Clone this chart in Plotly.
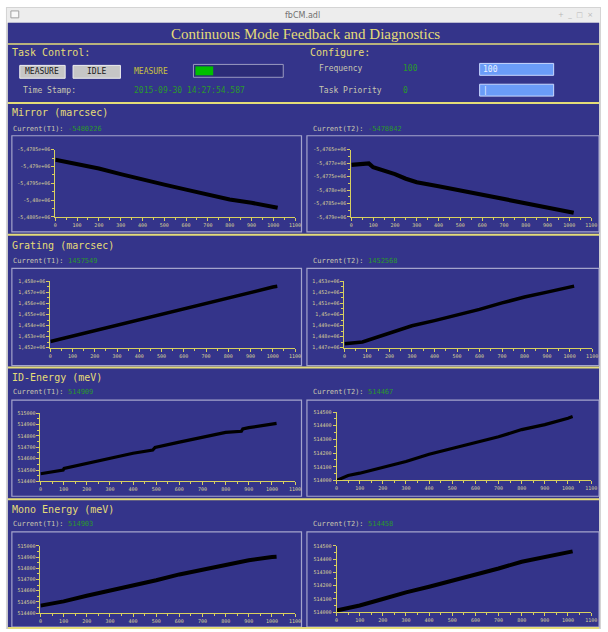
import plotly.graph_objects as go

W, H = 608, 632

# ---- data -------------------------------------------------------------
sample_x = [0, 100, 200, 300, 400, 500, 600, 700, 800, 900, 1000, 1020]

mirror_t1_x = sample_x
mirror_t1_y = [-5478800, -5478920, -5479060, -5479230, -5479400, -5479540,
               -5479690, -5479840, -5479980, -5480080, -5480205, -5480226]

mirror_t2_x = [0, 50, 80, 100, 150, 200, 250, 300, 400, 500, 600, 700, 800, 900, 1000, 1020]
mirror_t2_y = [-5477070, -5477046, -5477010, -5477155, -5477277, -5477410, -5477580,
               -5477714, -5477860, -5478017, -5478187, -5478345, -5478490, -5478624,
               -5478790, -5478842]

grating_t1_x = sample_x
grating_t1_y = [1452560, 1453060, 1453560, 1454050, 1454540, 1455040,
                1455530, 1456020, 1456520, 1457010, 1457480, 1457549]

grating_t2_x = [0, 80, 100, 200, 270, 300, 400, 500, 600, 700, 800, 900, 1000, 1020]
grating_t2_y = [1447350, 1447520, 1447650, 1448330, 1448830, 1448980, 1449450,
                1449950, 1450460, 1451050, 1451580, 1452025, 1452450, 1452568]

id_t1_x = [0, 98, 102, 200, 300, 400, 485, 495, 600, 700, 800, 868, 874, 900, 1000, 1020]
id_t1_y = [514467, 514500, 514515, 514560, 514604, 514647, 514676, 514698,
           514745, 514787, 514831, 514840, 514860, 514872, 514902, 514909]

id_t2_x = [0, 50, 100, 200, 300, 400, 500, 600, 700, 800, 900, 1000, 1020]
id_t2_y = [514000, 514036, 514053, 514094, 514138, 514191, 514234, 514278,
           514319, 514372, 514408, 514455, 514467]

mono_t1_x = sample_x
mono_t1_y = [514467, 514505, 514555, 514599, 514643, 514693,
             514745, 514789, 514833, 514872, 514900, 514903]

mono_t2_x = sample_x
mono_t2_y = [514012, 514050, 514099, 514149, 514191, 514235,
             514280, 514329, 514380, 514418, 514452, 514458]

x_ticks = list(range(0, 1101, 100))

mirror_t1_ticks = [-5478500, -5479000, -5479500, -5480000, -5480500]
mirror_t1_text = ["-5,4785e+06", "-5,479e+06", "-5,4795e+06", "-5,48e+06", "-5,4805e+06"]
mirror_t2_ticks = [-5476500, -5477000, -5477500, -5478000, -5478500, -5479000]
mirror_t2_text = ["-5,4765e+06", "-5,477e+06", "-5,4775e+06", "-5,478e+06", "-5,4785e+06", "-5,479e+06"]
grating_t1_ticks = [1452000, 1453000, 1454000, 1455000, 1456000, 1457000, 1458000]
grating_t1_text = ["1,452e+06", "1,453e+06", "1,454e+06", "1,455e+06", "1,456e+06", "1,457e+06", "1,458e+06"]
grating_t2_ticks = [1447000, 1448000, 1449000, 1450000, 1451000, 1452000, 1453000]
grating_t2_text = ["1,447e+06", "1,448e+06", "1,449e+06", "1,45e+06", "1,451e+06", "1,452e+06", "1,453e+06"]
e1_ticks = [514400, 514500, 514600, 514700, 514800, 514900, 515000]
e2_ticks = [514000, 514100, 514200, 514300, 514400, 514500]

current_values = ["-5480226", "-5478842", "1457549", "1452568",
                  "514909", "514467", "514903", "514458"]
section_titles = ["Mirror (marcsec)", "Grating (marcsec)", "ID-Energy (meV)", "Mono Energy (meV)"]

# ---- styling ----------------------------------------------------------
BLUE = "#34348a"
YEL = "#e4dc78"
AXC = "#d8d060"
TICKC = "#d8d098"
GREEN = "#2a9a2a"
LABC = "#c8c8b0"
MONO = "DejaVu Sans Mono"


def px(x):
    return x / W


def py(y):
    return 1 - y / H


shapes = []
annotations = []


def rect(x0, y0, x1, y1, fill=None, line=None, lw=1):
    shapes.append(dict(type="rect", xref="paper", yref="paper",
                       x0=px(x0), x1=px(x1), y0=py(y0), y1=py(y1),
                       fillcolor=fill if fill else "rgba(0,0,0,0)",
                       line=dict(color=line if line else "rgba(0,0,0,0)", width=lw if line else 0),
                       layer="below"))


def hline(x0, x1, y, color, lw=1):
    shapes.append(dict(type="line", xref="paper", yref="paper",
                       x0=px(x0), x1=px(x1), y0=py(y), y1=py(y),
                       line=dict(color=color, width=lw), layer="below"))


def text(x, y, s, size=11, color=YEL, family=MONO, anchor="left"):
    annotations.append(dict(x=px(x), y=py(y), xref="paper", yref="paper", text=s,
                            showarrow=False, xanchor=anchor, yanchor="middle",
                            borderpad=0, font=dict(size=size, color=color, family=family)))


# window frame and title bar
rect(4, 4, 607, 632, fill="#d4d4d4")
rect(5, 5, 606, 20, fill="#ededed")
rect(9, 8, 17, 15, fill="#f8f8f8", line="#a0a0a0")
text(304, 12.5, "fbCM.adl", size=8, color="#707070", family="DejaVu Sans", anchor="center")
text(600, 12.5, "+  _  □  ×", size=7, color="#b8b8b8", family="DejaVu Sans", anchor="right")
rect(6, 20, 605, 632, fill=BLUE)

# header
text(308, 31, "Continuous Mode Feedback and Diagnostics", size=15, color=YEL,
     family="Liberation Serif", anchor="center")
hline(6, 605, 41.5, YEL, 1.5)

# task control block
text(9, 50, "Task Control:", size=10)
text(311, 50, "Configure:", size=10)
rect(18, 63, 64, 76, fill="#c6c6c6", line="#f0f0f0")
text(41, 69.5, "MEASURE", size=8, color="#202020", anchor="center")
rect(72, 63, 120, 76, fill="#c6c6c6", line="#f0f0f0")
text(96, 69.5, "IDLE", size=8, color="#202020", anchor="center")
text(133, 69.5, "MEASURE", size=8, color="#c8c040")
rect(194, 62, 285, 75, fill="#2c2c78", line="#9a9ac0")
rect(196, 64, 214, 73, fill="#00c000")
text(20, 88, "Time Stamp:", size=8, color=LABC)
text(133, 88, "2015-09-30 14:27:54.587", size=8, color=GREEN)
text(320, 66, "Frequency", size=8, color=LABC)
text(405, 66, "100", size=8, color=GREEN)
rect(484, 61, 559, 73, fill="#6a9cf8", line="#c8d8ff")
text(486, 67, "100", size=8, color="#e8f0ff")
text(320, 88, "Task Priority", size=8, color=LABC)
text(405, 88, "0", size=8, color=GREEN)
rect(484, 82, 559, 94, fill="#6a9cf8", line="#c8d8ff")
text(486, 88, "|", size=8, color="#e8f0ff")

# section bands: (separator y, title y, current y, box top, box bottom)
sections = [(101, 111, 127, 134, 231),
            (234, 245, 260, 268, 366),
            (368, 378, 393, 401, 498),
            (501, 511, 526, 534, 630)]

for i, (sep, ty, cy, b0, b1) in enumerate(sections):
    hline(6, 605, sep, YEL, 2)
    text(9, ty, section_titles[i], size=10)
    text(10, cy, "Current(T1):", size=7, color=LABC)
    text(66, cy, current_values[2 * i], size=7, color=GREEN)
    text(314, cy, "Current(T2):", size=7, color=LABC)
    text(370, cy, current_values[2 * i + 1], size=7, color=GREEN)
    rect(10, b0, 303.5, b1, line="#a4a4cc", lw=1.2)
    rect(309, b0, 605, b1, line="#a4a4cc", lw=1.2)

hline(6, 605, 631, YEL, 2)

# ---- plot panels --------------------------------------------------------
# (x series, y series, tick vals, tick text, x-domain px, y-domain px)
panels = [
    (mirror_t1_x, mirror_t1_y, mirror_t1_ticks, mirror_t1_text, (54, 297), (148, 216)),
    (mirror_t2_x, mirror_t2_y, mirror_t2_ticks, mirror_t2_text, (354, 597), (148, 216)),
    (grating_t1_x, grating_t1_y, grating_t1_ticks, grating_t1_text, (49, 297), (281, 348)),
    (grating_t2_x, grating_t2_y, grating_t2_ticks, grating_t2_text, (347, 598), (281, 348)),
    (id_t1_x, id_t1_y, e1_ticks, [str(v) for v in e1_ticks], (39, 297), (414, 483)),
    (id_t2_x, id_t2_y, e2_ticks, [str(v) for v in e2_ticks], (339, 597), (413, 482)),
    (mono_t1_x, mono_t1_y, e1_ticks, [str(v) for v in e1_ticks], (39, 297), (548, 616)),
    (mono_t2_x, mono_t2_y, e2_ticks, [str(v) for v in e2_ticks], (339, 597), (548, 615)),
]

widths = [4.0, 4.2, 3.5, 3.5, 3.2, 3.2, 4.0, 4.0]

fig = go.Figure()
layout_axes = {}
for k, (xs, ys, tv, tt, xd, yd) in enumerate(panels):
    n = k + 1
    xa = "x" if n == 1 else f"x{n}"
    ya = "y" if n == 1 else f"y{n}"
    fig.add_trace(go.Scatter(x=xs, y=ys, mode="lines", xaxis=xa, yaxis=ya,
                             line=dict(color="black", width=widths[k]),
                             hoverinfo="skip", showlegend=False))
    step = tv[1] - tv[0]
    lo, hi = min(tv), max(tv)
    common = dict(showgrid=False, zeroline=False, showline=True, linecolor=AXC, linewidth=1,
                  ticks="outside", ticklen=3, tickcolor=AXC, tickwidth=1,
                  tickfont=dict(size=5, color=TICKC, family=MONO))
    layout_axes["xaxis" if n == 1 else f"xaxis{n}"] = dict(
        common, domain=[px(xd[0]), px(xd[1])], range=[0, 1100], anchor=ya,
        tickvals=x_ticks, ticktext=[str(v) for v in x_ticks],
        minor=dict(ticks="outside", ticklen=2, dtick=50, tickcolor=AXC, showgrid=False))
    layout_axes["yaxis" if n == 1 else f"yaxis{n}"] = dict(
        common, domain=[py(yd[1]), py(yd[0])], range=[lo, hi], anchor=xa,
        tickvals=tv, ticktext=tt,
        minor=dict(ticks="outside", ticklen=2, dtick=abs(step) / 2, tickcolor=AXC, showgrid=False))

fig.update_layout(width=W, height=H, autosize=False,
                  margin=dict(l=0, r=0, t=0, b=0),
                  paper_bgcolor="white", plot_bgcolor="rgba(0,0,0,0)",
                  shapes=shapes, annotations=annotations, **layout_axes)

fig.write_html("out.html", config={"displayModeBar": False})
